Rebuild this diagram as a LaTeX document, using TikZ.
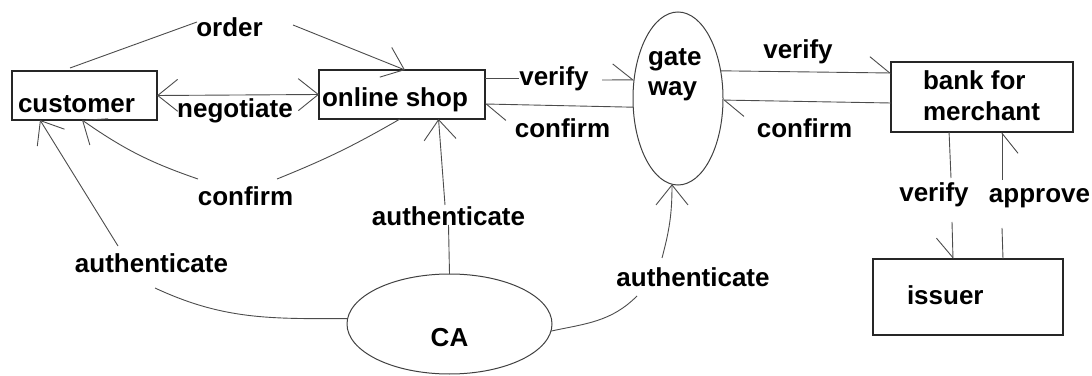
\documentclass[tikz,border=0pt]{standalone}
\usepackage{fontspec}
\setmainfont{Liberation Sans}
\usetikzlibrary{arrows.meta,shapes.geometric,calc}
\begin{document}
\begin{tikzpicture}[x=1pt,y=1pt,
  every node/.style={inner sep=0pt, outer sep=0pt, font=\fontsize{26pt}{30pt}\selectfont\bfseries},
  box/.style={draw=black!85, line width=1.1pt, rectangle},
  ell/.style={draw=black!75, line width=1pt, ellipse},
  conn/.style={draw=black!70, line width=0.9pt},
  arr/.style={conn, -{Straight Barb[length=20pt,width=32pt]}},
  arrh/.style={conn, -{Straight Barb[length=20pt,width=32pt,harpoon]}},
  arrhs/.style={conn, -{Straight Barb[length=20pt,width=32pt,harpoon,swap]}},
  darr/.style={conn, {Straight Barb[length=20pt,width=32pt]}-{Straight Barb[length=20pt,width=32pt]}}
]
\useasboundingbox (0,0) rectangle (1092,375);

% main nodes
\node[box, minimum width=145pt, minimum height=49pt] (cust) at (84.5,279.5) {};
\node[anchor=west] (custt) at (18,271) {customer};
\node[box, minimum width=166pt, minimum height=49pt] (shop) at (402,280.5) {};
\node[anchor=west] (shopt) at (322,275) {online shop};
\node[ell, minimum width=90pt, minimum height=173pt] (gw) at (678,276.5) {};
\node[anchor=west, align=left] (gwt) at (648,300) {gate\\way};
\node[box, minimum width=182pt, minimum height=70pt] (bank) at (982,278) {};
\node[anchor=west, align=left, font=\fontsize{26pt}{31pt}\selectfont\bfseries] (bankt) at (923,279.5) {bank for\\merchant};
\node[box, minimum width=190pt, minimum height=76pt] (iss) at (968,78) {};
\node[anchor=west] (isst) at (907,80) {issuer};
\node[ell, minimum width=205pt, minimum height=100pt] (ca) at (449.5,51) {};
\node (cat) at (449.5,37) {CA};

% labels
\node (lorder) at (229.5,348) {order};
\node (lneg) at (235,264) {negotiate};
\node (lconfL) at (245.5,179) {confirm};
\node (lauthL) at (151.5,112) {authenticate};
\node (lauthM) at (448.5,159) {authenticate};
\node (lauthR) at (693,98) {authenticate};
\node (lver1) at (554,296) {verify};
\node (lconf1) at (562.5,247) {confirm};
\node (lver2) at (798,323) {verify};
\node (lconf2) at (804.5,247) {confirm};
\node (lver3) at (934,180) {verify};
\node (lapp) at (1039.5,177) {approve};

% free ends of connectors beside labels
\coordinate (o1) at (197,353);
\coordinate (o2) at (293,350);
\coordinate (c1) at (277,196);
\coordinate (c2) at (198,196);
\coordinate (al1) at (155,87);
\coordinate (al2) at (118,129);
\coordinate (am1) at (448.5,150);
\coordinate (am2) at (445,170);
\coordinate (ar1) at (637,79);
\coordinate (ar2) at (662,117);
\coordinate (v1a) at (519,297);
\coordinate (v1b) at (602,295);
\coordinate (v3a) at (951,197);
\coordinate (v3b) at (952,153);
\coordinate (ap1) at (1002,147);
\coordinate (ap2) at (1002,195);

% order
\draw[conn] ($(cust.north west)+(58,3)$) -- (o1);
\draw[arr] (o2) -- ($(shop.north)+(3,0)$);
% negotiate
\draw[darr] (cust.east) -- (shop.west);
% confirm shop -> customer
\draw[conn] ($(shop.south)+(-2,0)$) to[bend left=4] (c1);
\draw[arr] (c2) to[bend left=8] ($(cust.south west)!0.483!(cust.south east)$);
% authenticate CA -> customer
\draw[conn] (ca.177) to[out=180,in=-25] (al1);
\draw[arr] (al2) -- ($(cust.south west)+(28,0)$);
% authenticate CA -> shop
\draw[conn] (ca.north) -- (am1);
\draw[arr] (am2) -- ($(shop.south west)!0.72!(shop.south east)$);
% authenticate CA -> gateway
\draw[conn] (ca.-4) to[out=12,in=-135] (ar1);
\draw[arr] (ar2) to[out=75,in=-90] (gw.-94);
% verify / confirm shop <-> gateway
\draw[conn] ($(shop.north east)+(0,-8)$) -- (v1a);
\draw[arrh] (v1b) -- (gw.157);
\draw[arrh] (gw.191) -- ($(shop.east)+(0,-9.5)$);
% verify / confirm gateway <-> bank
\draw[arrh] (gw.33) -- ($(bank.north west)+(0,-11)$);
\draw[arrh] ($(bank.west)+(0,-6)$) -- (gw.-2);
% verify bank -> issuer
\draw[conn] ($(bank.south west)!0.319!(bank.south east)$) -- (v3a);
\draw[arrhs] (v3b) -- ($(iss.north west)+(80,0)$);
% approve issuer -> bank
\draw[conn] ($(iss.north west)+(130,0)$) -- (ap1);
\draw[arrhs] (ap2) -- ($(bank.south west)+(111,0)$);
\end{tikzpicture}
\end{document}
